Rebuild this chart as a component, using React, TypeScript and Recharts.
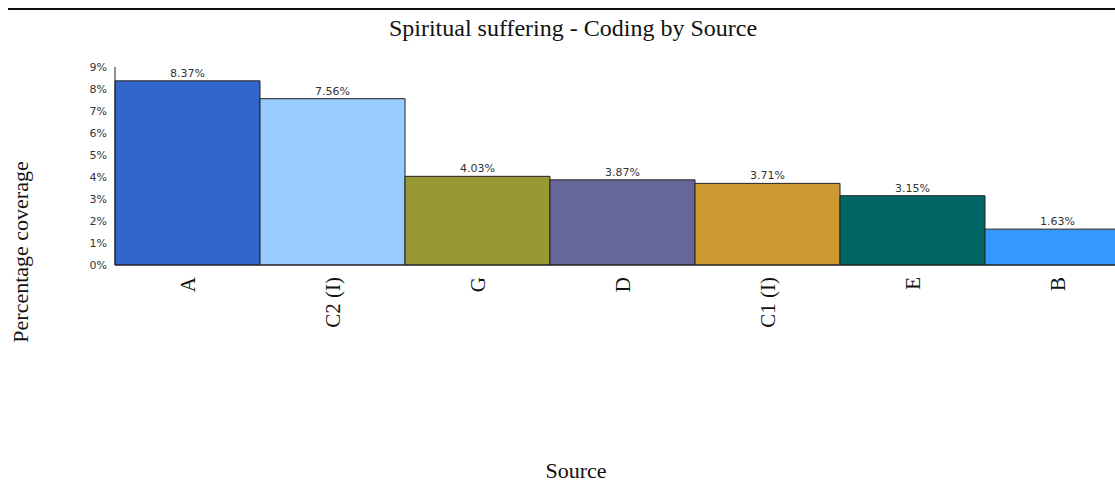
import { BarChart, Bar, XAxis, YAxis, Cell, LabelList, Label } from "recharts"

const sources = ["A", "C2 (I)", "G", "D", "C1 (I)", "E", "B"]
const coverage = [8.37, 7.56, 4.03, 3.87, 3.71, 3.15, 1.63]
const barColors = ["#3366cc", "#99ccff", "#999933", "#666699", "#cc9933", "#006666", "#3399ff"]
const yTicks = [0, 1, 2, 3, 4, 5, 6, 7, 8, 9]

const chartData = sources.map((name, i) => ({ name, value: coverage[i] }))

const serif = "'Liberation Serif', 'Times New Roman', serif"
const sans = "'DejaVu Sans', Tahoma, sans-serif"

// rotated category labels, read bottom to top
const SourceTick = (props: any) => {
  const { x, y, payload } = props
  const ty = y + 4
  return (
    <text
      x={x}
      y={ty}
      transform={`rotate(-90, ${x}, ${ty})`}
      textAnchor="end"
      dominantBaseline="central"
      fontFamily={serif}
      fontSize={21}
      fill="#111"
    >
      {payload.value}
    </text>
  )
}

export default function App() {
  return (
    <div
      style={{
        position: "fixed",
        left: 0,
        top: 0,
        width: 1115,
        height: 485,
        overflow: "hidden",
        background: "#fff",
      }}
    >
      <div style={{ position: "absolute", left: 8, top: 8, width: 1107, height: 2, background: "#111" }} />
      <svg style={{ position: "absolute", left: 8, top: 8 }} width={1107} height={50}>
        <text x={565} y={28} textAnchor="middle" fontFamily={serif} fontSize={24} fill="#111">
          Spiritual suffering - Coding by Source
        </text>
      </svg>
      <div style={{ position: "absolute", left: 8, top: 8 }}>
        <BarChart
          width={1130}
          height={477}
          data={chartData}
          margin={{ top: 59, right: 8, bottom: 0, left: 0 }}
          barCategoryGap={0}
        >
          <XAxis
            dataKey="name"
            height={220}
            interval={0}
            tickLine={false}
            axisLine={{ stroke: "#222" }}
            tick={<SourceTick />}
          >
            <Label
              content={(p: any) => {
                const vb = p.viewBox
                return (
                  <text x={568} y={vb.y + 213} textAnchor="middle" fontFamily={serif} fontSize={22} fill="#111">
                    Source
                  </text>
                )
              }}
            />
          </XAxis>
          <YAxis
            width={107}
            domain={[0, 9]}
            ticks={yTicks}
            interval={0}
            tickLine={false}
            axisLine={{ stroke: "#222" }}
            tickFormatter={(v: number) => `${v}%`}
            tick={{ fontFamily: sans, fontSize: 11, fill: "#333" }}
          >
            <Label
              content={(p: any) => {
                const vb = p.viewBox
                const cx = 12
                const cy = vb.y + vb.height / 2 + 86
                return (
                  <text
                    x={cx}
                    y={cy}
                    transform={`rotate(-90, ${cx}, ${cy})`}
                    textAnchor="middle"
                    dominantBaseline="central"
                    fontFamily={serif}
                    fontSize={22}
                    fill="#111"
                  >
                    Percentage coverage
                  </text>
                )
              }}
            />
          </YAxis>
          <Bar dataKey="value" stroke="#222" strokeWidth={1} isAnimationActive={false}>
            {chartData.map((d, i) => (
              <Cell key={d.name} fill={barColors[i]} />
            ))}
            <LabelList
              dataKey="value"
              position="top"
              offset={4}
              formatter={(v: any) => `${Number(v).toFixed(2)}%`}
              style={{ fontFamily: sans, fontSize: 11, fill: "#333" }}
            />
          </Bar>
        </BarChart>
      </div>
    </div>
  )
}
